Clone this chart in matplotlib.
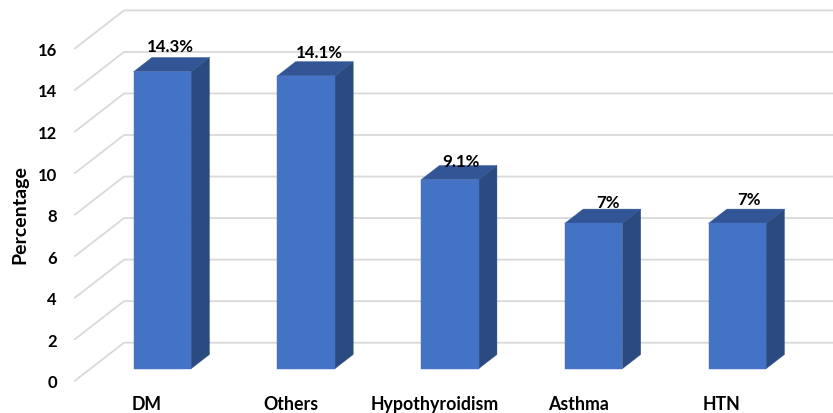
import matplotlib
matplotlib.use("Agg")
import matplotlib.pyplot as plt
from matplotlib.patches import Polygon

categories = ['DM', 'Others', 'Hypothyroidism', 'Asthma', 'HTN']
values = [14.3, 14.1, 9.1, 7, 7]
value_labels = ['14.3%', '14.1%', '9.1%', '7%', '7%']
yticks = [0, 2, 4, 6, 8, 10, 12, 14, 16]

plt.rcParams['font.family'] = ['Lato', 'DejaVu Sans']
plt.rcParams['font.weight'] = 'bold'

W, H = 833, 414
fig = plt.figure(figsize=(W / 100, H / 100), dpi=100)
# front plane of the 3d box, in pixels: x 75-794, y 381.7 (0) to 49.4 (16)
ax = fig.add_axes([75 / W, 1 - 381.7 / H, 718.75 / W, 332.3 / H])
ax.set_xlim(-0.5, 4.5)
ax.set_ylim(0, 16)

# full depth of the box in data units
depth_x = 49 / 143.75
depth_y = 38 / 20.77
# bars sit between these fractions of the depth
d0 = 0.316
d1 = 0.69
half = 0.2


def proj(x, y, d):
    return (x + depth_x * d, y + depth_y * d)


for v in yticks:
    ax.plot([-0.5, -0.5 + depth_x, 4.5 + depth_x], [v, v + depth_y, v + depth_y],
            color='#d9d9d9', lw=1.3, clip_on=False, zorder=1, solid_joinstyle='miter')

for i, v in enumerate(values):
    l, r = i - half, i + half
    side = [proj(r, 0, d0), proj(r, 0, d1), proj(r, v, d1), proj(r, v, d0)]
    top = [proj(l, v, d0), proj(r, v, d0), proj(r, v, d1), proj(l, v, d1)]
    front = [proj(l, 0, d0), proj(r, 0, d0), proj(r, v, d0), proj(l, v, d0)]
    ax.add_patch(Polygon(side, fc='#2a4a80', ec='#2a4a80', lw=0.3, clip_on=False, zorder=2))
    ax.add_patch(Polygon(top, fc='#325595', ec='#325595', lw=0.3, clip_on=False, zorder=2))
    ax.add_patch(Polygon(front, fc='#4472c4', ec='#4472c4', lw=0.3, clip_on=False, zorder=3))

# hand placed label nudges, in points from the back top edge of each bar
nudges = [(-7.5, 8), (-3.6, 6.8), (-5, 3.4), (-2.9, 5.2), (-4.6, 7.4)]
for i, v in enumerate(values):
    ax.annotate(value_labels[i], xy=proj(i, v, d1), xytext=nudges[i],
                textcoords='offset points', ha='center', va='center',
                fontsize=12.2, color='black', zorder=5, annotation_clip=False)

ax.set_xticks(range(len(categories)))
ax.set_xticklabels(categories, fontsize=12.8)
ax.set_yticks(yticks)
ax.set_yticklabels(yticks, fontsize=12)
ax.tick_params(axis='x', length=0, pad=10.5)
ax.tick_params(axis='y', length=0, pad=13)
for s in ax.spines.values():
    s.set_visible(False)
ax.patch.set_visible(False)

fig.text(19.5 / W, 1 - 215 / H, 'Percentage', rotation=90, ha='center', va='center',
         fontsize=14, color='black')

fig.savefig('out.png', dpi=100)
